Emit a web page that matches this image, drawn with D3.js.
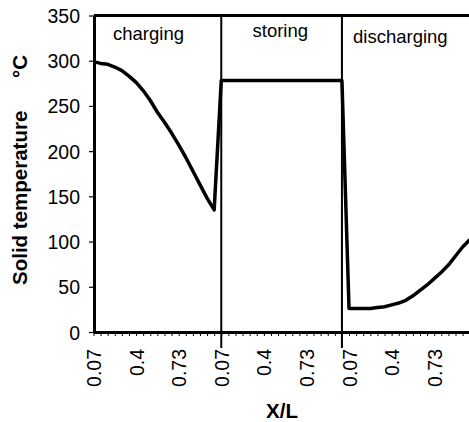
<!DOCTYPE html>
<html>
<head>
<meta charset="utf-8">
<script src="https://cdn.jsdelivr.net/npm/d3@7/dist/d3.min.js"></script>
<style>
  html, body { margin: 0; padding: 0; background: #fff; }
  svg { display: block; }
  text { font-family: "Liberation Sans", Arial, Helvetica, sans-serif; fill: #000; }
</style>
</head>
<body>
<svg id="chart" width="469" height="422"></svg>
<script>
// Phases of the storage cycle, shown as three side-by-side panels
const phases = ["charging", "storing", "discharging"];

// Dimensionless position X/L sampled in each phase
const positions = ["0.07", "0.125", "0.18", "0.235", "0.29", "0.345", "0.4", "0.455", "0.51",
                   "0.565", "0.62", "0.675", "0.73", "0.785", "0.84", "0.895", "0.95", "1.0"];
const labelledPositions = ["0.07", "0.4", "0.73"];

// Solid temperature (°C) along the bed for each phase
const chargingTemp = [299, 297, 296, 293, 289, 283, 276, 267, 256, 243, 232, 220, 207, 193, 178, 163, 148, 135];
const storingTemp = [278, 278, 278, 278, 278, 278, 278, 278, 278, 278, 278, 278, 278, 278, 278, 278, 278, 278];
const dischargingTemp = [26, 26, 26, 26, 27, 28, 30, 32, 35, 40, 46, 52, 59, 66, 74, 84, 94, 102];

const yTicks = [0, 50, 100, 150, 200, 250, 300, 350];

// Build a flat category list (one per phase/position pair)
const series = [chargingTemp, storingTemp, dischargingTemp];
const points = [];
phases.forEach((ph, pi) => {
  positions.forEach((pos, i) => {
    points.push({ key: ph + "|" + pos, phase: ph, pos: pos, value: series[pi][i] });
  });
});

const svg = d3.select("#chart");

const x = d3.scalePoint()
  .domain(points.map(d => d.key))
  .range([93.5, 469.7]);

const y = d3.scaleLinear()
  .domain([0, 350])
  .range([332, 15.5]);

const plotLeft = 94, plotRight = 469, plotTop = y(350), plotBottom = y(0);

// Top frame line
svg.append("line")
  .attr("x1", plotLeft).attr("x2", plotRight)
  .attr("y1", plotTop).attr("y2", plotTop)
  .attr("stroke", "#000").attr("stroke-width", 3);

// Y axis
const yAxis = svg.append("g")
  .attr("transform", `translate(${plotLeft},0)`)
  .call(d3.axisLeft(y).tickValues(yTicks).tickSize(5).tickPadding(9).tickSizeOuter(0));
yAxis.select(".domain").attr("stroke-width", 3);
yAxis.selectAll(".tick line").attr("stroke-width", 1.2);
yAxis.selectAll(".tick text")
  .style("font-size", "19.5px")
  .attr("dy", "0.36em");

// X axis
const xAxis = svg.append("g")
  .attr("transform", `translate(0,${plotBottom})`)
  .call(d3.axisBottom(x)
    .tickSize(4)
    .tickSizeOuter(0)
    .tickFormat(k => {
      const pos = k.split("|")[1];
      return labelledPositions.includes(pos) ? pos : "";
    }));
xAxis.select(".domain").attr("stroke-width", 3);
xAxis.selectAll(".tick line").attr("stroke-width", 1);
xAxis.selectAll(".tick text")
  .style("font-size", "19.5px")
  .style("text-anchor", "end")
  .attr("transform", "rotate(-90)")
  .attr("x", -17)
  .attr("y", 0)
  .attr("dy", "0.36em");

// Phase separators (start and end of the storing phase)
const sepKeys = ["storing|" + positions[0], "storing|" + positions[positions.length - 1]];
svg.selectAll("line.sep")
  .data(sepKeys)
  .join("line")
  .attr("class", "sep")
  .attr("x1", d => x(d)).attr("x2", d => x(d))
  .attr("y1", plotTop).attr("y2", 348)
  .attr("stroke", "#000").attr("stroke-width", 2);

// Temperature curve across all three phases
const line = d3.line()
  .x(d => x(d.key))
  .y(d => y(d.value));
svg.append("path")
  .datum(points)
  .attr("fill", "none")
  .attr("stroke", "#000")
  .attr("stroke-width", 3.5)
  .attr("stroke-linejoin", "round")
  .attr("d", line);

// Phase names
const phaseLabelPos = [
  { x: 113, y: 40, anchor: "start" },
  { x: 252.5, y: 37, anchor: "start" },
  { x: 353, y: 43, anchor: "start" }
];
svg.selectAll("text.phase")
  .data(phases)
  .join("text")
  .attr("class", "phase")
  .attr("x", (d, i) => phaseLabelPos[i].x)
  .attr("y", (d, i) => phaseLabelPos[i].y)
  .attr("text-anchor", (d, i) => phaseLabelPos[i].anchor)
  .style("font-size", "18.5px")
  .text(d => d);

// Axis titles
svg.append("text")
  .attr("transform", "translate(27,285) rotate(-90)")
  .attr("text-anchor", "start")
  .style("font-size", "20.5px")
  .style("font-weight", "bold")
  .text("Solid temperature");
svg.append("text")
  .attr("transform", "translate(27,78) rotate(-90)")
  .attr("text-anchor", "start")
  .style("font-size", "20.5px")
  .style("font-weight", "bold")
  .text("°C");

svg.append("text")
  .attr("x", 282)
  .attr("y", 418)
  .attr("text-anchor", "middle")
  .style("font-size", "20.5px")
  .style("font-weight", "bold")
  .text("X/L");
</script>
</body>
</html>
